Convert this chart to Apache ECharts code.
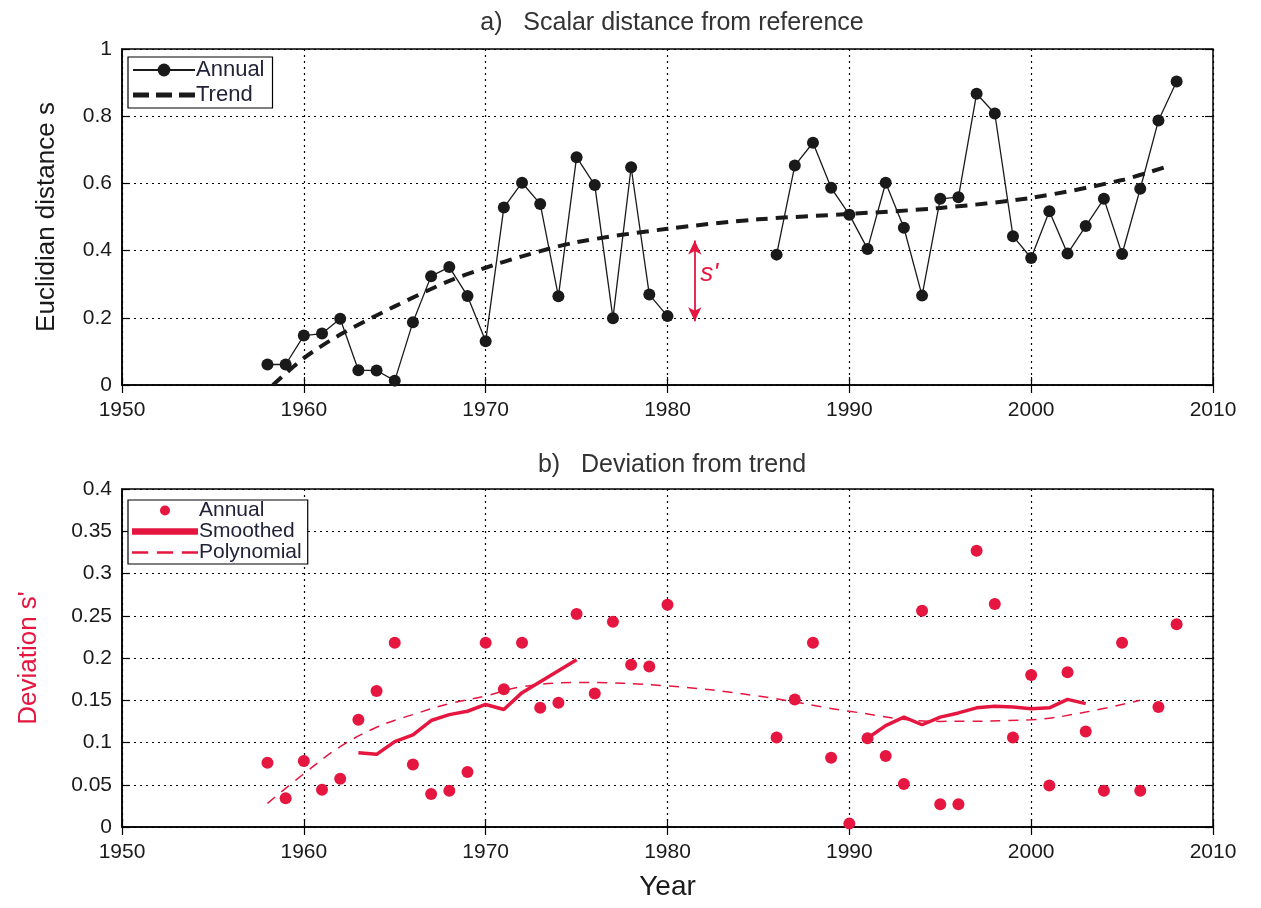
<!DOCTYPE html>
<html>
<head>
<meta charset="utf-8">
<script src="https://cdn.jsdelivr.net/npm/echarts@6/dist/echarts.min.js"></script>
<style>
  html, body { margin: 0; padding: 0; background: #fff; }
  #chart { width: 1261px; height: 908px; }
</style>
</head>
<body>
<div id="chart"></div>
<script>
// Years of the annual record (1981-1985 missing)
const years = [1958, 1959, 1960, 1961, 1962, 1963, 1964, 1965, 1966, 1967, 1968, 1969,
  1970, 1971, 1972, 1973, 1974, 1975, 1976, 1977, 1978, 1979, 1980,
  1981, 1982, 1983, 1984, 1985,
  1986, 1987, 1988, 1989, 1990, 1991, 1992, 1993, 1994, 1995, 1996, 1997, 1998, 1999,
  2000, 2001, 2002, 2003, 2004, 2005, 2006, 2007, 2008];

// a) Euclidian distance s, per year
const distanceAnnual = [0.061, 0.061, 0.147, 0.153, 0.197, 0.044, 0.043, 0.013, 0.187, 0.324, 0.351, 0.265,
  0.130, 0.528, 0.602, 0.539, 0.264, 0.678, 0.595, 0.199, 0.648, 0.269, 0.205,
  null, null, null, null, null,
  0.388, 0.653, 0.721, 0.587, 0.507, 0.405, 0.602, 0.468, 0.266, 0.554, 0.559, 0.867, 0.808, 0.443,
  0.378, 0.517, 0.391, 0.473, 0.554, 0.390, 0.584, 0.787, 0.903];

// a) fitted trend of s
const trendYears = [1958.3, 1960, 1962, 1965, 1968, 1970, 1972, 1975, 1980, 1985, 1990, 1995, 2000, 2005, 2007.5];
const trendValues = [0.0, 0.08, 0.15, 0.234, 0.31, 0.349, 0.383, 0.425, 0.465, 0.493, 0.509, 0.527, 0.557, 0.610, 0.651];

// b) deviation s' from the trend, per year
const deviationAnnual = [0.076, 0.034, 0.078, 0.044, 0.057, 0.127, 0.161, 0.218, 0.074, 0.039, 0.043, 0.065,
  0.218, 0.163, 0.218, 0.141, 0.147, 0.252, 0.158, 0.243, 0.192, 0.190, 0.263,
  null, null, null, null, null,
  0.106, 0.151, 0.218, 0.082, 0.004, 0.105, 0.084, 0.051, 0.256, 0.027, 0.027, 0.327, 0.264, 0.106,
  0.180, 0.049, 0.183, 0.113, 0.043, 0.218, 0.043, 0.142, 0.240];

// b) running mean of s' (two stretches)
const smoothYears = [1963, 1964, 1965, 1966, 1967, 1968, 1969, 1970, 1971, 1972, 1973, 1974, 1975,
  1983,
  1991, 1992, 1993, 1994, 1995, 1996, 1997, 1998, 1999, 2000, 2001, 2002, 2003];
const smoothValues = [0.088, 0.086, 0.101, 0.109, 0.126, 0.133, 0.137, 0.145, 0.139, 0.159, 0.172, 0.185, 0.198,
  null,
  0.105, 0.120, 0.130, 0.121, 0.130, 0.135, 0.141, 0.143, 0.142, 0.140, 0.141, 0.151, 0.146];

// b) polynomial fit of s'
const polyYears = [1958, 1960, 1962, 1964, 1966, 1968, 1970, 1972, 1975, 1980, 1985, 1990, 1995, 2000, 2003, 2006];
const polyValues = [0.028, 0.063, 0.095, 0.118, 0.133, 0.146, 0.155, 0.166, 0.171, 0.167, 0.155, 0.137, 0.125, 0.127, 0.136, 0.150];

// s' annotation: double arrow between trend and an annual value
const arrowYear = 1981.5;
const arrowTop = 0.43;
const arrowBottom = 0.19;
const arrowLabel = [1982.3, 0.33];

const xTicks = [1950, 2010, 10];
const topTicks = [0, 1, 0.2];
const bottomTicks = [0, 0.4, 0.05];

const RED = '#e5163f';
const INK = '#1a1a1a';
const FONT = '"Liberation Sans", Arial, sans-serif';

const pairs = (xs, ys) => xs.map((x, i) => [x, ys[i] === null ? '-' : ys[i]]);

const tickStyle = { show: true, inside: true, length: 8, lineStyle: { color: '#000', width: 1.2 } };
const gridDots = { show: true, lineStyle: { color: '#000', type: [2, 4], width: 1.2 } };

function xAxis(gridIndex, withName) {
  return {
    type: 'value', gridIndex, min: xTicks[0], max: xTicks[1], interval: xTicks[2],
    axisLine: { show: true, lineStyle: { color: '#000', width: 1.5 } },
    axisTick: tickStyle,
    axisLabel: { fontSize: 21, color: INK, fontFamily: FONT, margin: 15, formatter: v => String(v) },
    splitLine: gridDots,
    name: withName ? 'Year' : '',
    nameLocation: 'middle', nameGap: 46,
    nameTextStyle: { fontSize: 28, color: INK, fontFamily: FONT }
  };
}

// mirror axis on the opposite side, carrying only the inward ticks
function xMirror(gridIndex) {
  return {
    type: 'value', gridIndex, position: 'top', min: xTicks[0], max: xTicks[1], interval: xTicks[2],
    axisLine: { show: false }, axisTick: tickStyle, axisLabel: { show: false }, splitLine: { show: false }
  };
}

function yAxis(gridIndex, ticks, name, nameColor, nameGap, fmt) {
  return {
    type: 'value', gridIndex, min: ticks[0], max: ticks[1], interval: ticks[2],
    axisLine: { show: true, lineStyle: { color: '#000', width: 1.5 } },
    axisTick: tickStyle,
    axisLabel: { fontSize: 21, color: INK, fontFamily: FONT, margin: 10, formatter: fmt },
    splitLine: gridDots,
    name, nameLocation: 'middle', nameGap,
    nameTextStyle: { fontSize: 26, color: nameColor, fontFamily: FONT }
  };
}

function yMirror(gridIndex, ticks) {
  return {
    type: 'value', gridIndex, position: 'right', min: ticks[0], max: ticks[1], interval: ticks[2],
    axisLine: { show: false }, axisTick: tickStyle, axisLabel: { show: false }, splitLine: { show: false }
  };
}

const fmtTop = v => (v === 1 ? '1' : v === 0 ? '0' : String(+v.toFixed(1)));
const fmtBottom = v => (v === 0 ? '0' : String(+v.toFixed(2)));

// legend keys drawn as short strokes
const trendKey = 'path://M0,0h16v5h-16z M23,0h16v5h-16z M46,0h16v5h-16z';
const smoothKey = 'path://M0,0h62v6h-62z';
const polyKey = 'path://M0,0h13v2h-13z M20,0h13v2h-13z M40,0h13v2h-13z';

const chart = echarts.init(document.getElementById('chart'), null, { renderer: 'canvas' });

chart.setOption({
  backgroundColor: '#fff',
  animation: false,
  title: [
    { text: 'a)   Scalar distance from reference', left: 667, top: 6, textAlign: 'center',
      textStyle: { fontSize: 25, fontWeight: 'normal', color: '#333', fontFamily: FONT } },
    { text: 'b)   Deviation from trend', left: 667, top: 448, textAlign: 'center',
      textStyle: { fontSize: 25, fontWeight: 'normal', color: '#333', fontFamily: FONT } }
  ],
  grid: [
    { left: 122, right: 48, top: 49, height: 336, show: true, borderColor: '#000', borderWidth: 1.5, backgroundColor: 'transparent' },
    { left: 122, right: 48, top: 489, height: 338, show: true, borderColor: '#000', borderWidth: 1.5, backgroundColor: 'transparent' }
  ],
  xAxis: [xAxis(0, false), xAxis(1, true), xMirror(0), xMirror(1)],
  yAxis: [
    yAxis(0, topTicks, 'Euclidian distance s', INK, 62, fmtTop),
    yAxis(1, bottomTicks, "Deviation s'", RED, 80, fmtBottom),
    yMirror(0, topTicks), yMirror(1, bottomTicks)
  ],
  legend: [
    {
      data: [
        { name: 'Annual' },
        { name: 'Trend', icon: trendKey, itemStyle: { color: INK } }
      ],
      left: 128, top: 57, orient: 'vertical',
      backgroundColor: '#fff', borderColor: '#000', borderWidth: 1.2, borderRadius: 0,
      padding: [2, 8, 2, 4], itemGap: 3, itemWidth: 62, itemHeight: 16,
      textStyle: { fontSize: 22, lineHeight: 22, color: '#222238', fontFamily: FONT, padding: [0, 0, 0, -4] }
    },
    {
      data: [
        { name: 'Annual ' },
        { name: 'Smoothed', icon: smoothKey, itemStyle: { color: RED } },
        { name: 'Polynomial', icon: polyKey, itemStyle: { color: RED } }
      ],
      left: 128, top: 500, orient: 'vertical',
      backgroundColor: '#fff', borderColor: '#000', borderWidth: 1.2, borderRadius: 0,
      padding: [0, 6, 1, 4], itemGap: 0, itemWidth: 66, itemHeight: 10,
      textStyle: { fontSize: 21, lineHeight: 21, color: '#222238', fontFamily: FONT, padding: [0, 0, 0, -4] }
    }
  ],
  series: [
    {
      name: 'Trend', type: 'line', xAxisIndex: 0, yAxisIndex: 0,
      data: pairs(trendYears, trendValues), smooth: 0.3, showSymbol: false, symbol: 'none',
      lineStyle: { color: INK, width: 4, type: [12, 8] }, itemStyle: { color: INK }, z: 3,
      markLine: {
        silent: true, symbol: ['arrow', 'arrow'], symbolSize: [10, 14],
        lineStyle: { color: RED, width: 1.8, type: 'solid' }, label: { show: false },
        data: [[{ coord: [arrowYear, arrowTop] }, { coord: [arrowYear, arrowBottom] }]]
      },
      markPoint: {
        silent: true, symbol: 'circle', symbolSize: 0,
        label: { show: true, formatter: "s'", color: RED, fontSize: 26, fontStyle: 'italic', fontFamily: FONT },
        data: [{ coord: arrowLabel }]
      }
    },
    {
      name: 'Annual', type: 'line', xAxisIndex: 0, yAxisIndex: 0,
      data: pairs(years, distanceAnnual), connectNulls: false,
      symbol: 'circle', symbolSize: 12, showSymbol: true,
      itemStyle: { color: INK }, lineStyle: { color: INK, width: 1.3 }, z: 4
    },
    {
      name: 'Polynomial', type: 'line', xAxisIndex: 1, yAxisIndex: 1,
      data: pairs(polyYears, polyValues), smooth: 0.4, symbol: 'none',
      lineStyle: { color: RED, width: 1.5, type: [10, 8] }, itemStyle: { color: RED }, z: 3
    },
    {
      name: 'Smoothed', type: 'line', xAxisIndex: 1, yAxisIndex: 1,
      data: pairs(smoothYears, smoothValues), connectNulls: false, symbol: 'none',
      lineStyle: { color: RED, width: 3.5 }, itemStyle: { color: RED }, z: 3
    },
    {
      name: 'Annual ', type: 'scatter', xAxisIndex: 1, yAxisIndex: 1,
      data: pairs(years, deviationAnnual).filter(p => p[1] !== '-'),
      symbol: 'circle', symbolSize: 12, itemStyle: { color: RED, opacity: 1 }, z: 4
    }
  ]
});
</script>
</body>
</html>
